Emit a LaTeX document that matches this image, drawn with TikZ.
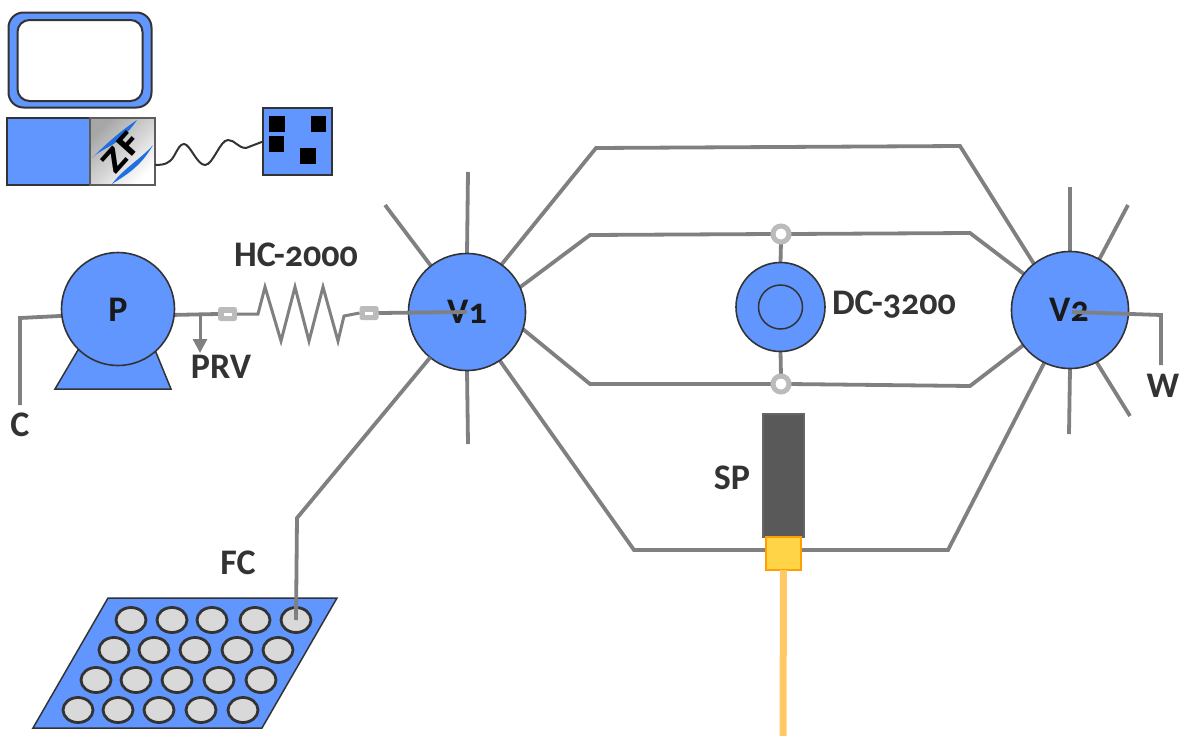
\documentclass[tikz,border=0pt]{standalone}
\usepackage{fontspec}
\setmainfont{Carlito}[Numbers=OldStyle]
\newfontfamily\zffont{DejaVu Sans}
\usetikzlibrary{backgrounds,arrows.meta,shapes.geometric,calc}
\definecolor{bluef}{HTML}{6196FF}
\definecolor{edgec}{HTML}{333333}
\definecolor{tube}{HTML}{808080}
\definecolor{fit}{HTML}{BBBBBB}
\definecolor{wave}{HTML}{1F6FE0}
\definecolor{tipf}{HTML}{FFD447}
\definecolor{tipd}{HTML}{FFA000}
\definecolor{fibc}{HTML}{FFC966}
\tikzset{
 every node/.style={inner sep=0pt,outer sep=0pt},
 lbl/.style={font=\fontsize{36}{36}\bfseries\selectfont,text=edgec},
 disclbl/.style={font=\fontsize{36}{36}\bfseries\selectfont,text=black!90},
 disc/.style={circle,draw=edgec,fill=bluef,line width=1.6pt},
 tubeline/.style={draw=tube,line width=3.8pt,line join=miter},
 fitting/.style={rectangle,rounded corners=2.5pt,fill=fit,minimum width=19pt,minimum height=14pt},
 ring/.style={circle,draw=fit,fill=white,line width=5pt,minimum size=16pt},
 well/.style={ellipse,draw=edgec,fill=black!15,line width=2.8pt,minimum width=30pt,minimum height=25pt},
 blk/.style={rectangle,fill=black},
}
\begin{document}
\begin{tikzpicture}[x=1pt,y=-1pt]
\useasboundingbox (0,0) rectangle (1181,736);
% computer
\node[rectangle,draw=edgec,fill=bluef,line width=2pt,rounded corners=15pt,minimum width=143pt,minimum height=95pt] (mon) at (80,60) {};
\node[rectangle,draw=edgec,fill=white,line width=2pt,rounded corners=12pt,minimum width=125pt,minimum height=81pt] (scr) at (80,60.5) {};
\node[rectangle,draw=edgec,fill=bluef,line width=2pt,minimum width=84pt,minimum height=67pt] (pc) at (48.5,151.5) {};
\node[rectangle,draw=edgec!80,line width=1.5pt,top color=black!35,bottom color=white,shading angle=45,minimum width=65pt,minimum height=67pt] (zf) at (122.5,151.5) {};
\fill[wave] (92,158) .. controls (104,146) and (118,148) .. (137,120) .. controls (122,130) and (108,142) .. cycle;
\fill[wave] (112,184) .. controls (124,176) and (140,168) .. (153,145) .. controls (142,158) and (124,168) .. cycle;
\node[rotate=48,text=black,font=\fontsize{30}{30}\bfseries\zffont] (zft) at (122,152) {ZF};
% device
\node[rectangle,draw=edgec,fill=bluef,line width=2pt,minimum width=69pt,minimum height=67pt] (dev) at (297.5,141.5) {};
\node[blk,minimum width=16pt,minimum height=16pt] (b1) at (277,124) {};
\node[blk,minimum width=15pt,minimum height=16pt] (b2) at (318.5,124) {};
\node[blk,minimum width=15pt,minimum height=16pt] (b3) at (276.5,144) {};
\node[blk,minimum width=16pt,minimum height=16pt] (b4) at (308,156) {};
\coordinate (za) at (155,165);
\coordinate (db) at (dev.west);
\draw[draw=edgec,line width=2pt] (za) .. controls (165,165) and (170,163) .. (174,156) .. controls (178,149) and (180,144) .. (184,144) .. controls (190,144) and (197,165) .. (205,165) .. controls (213,165) and (220,140) .. (228,140) .. controls (235,140) and (238,148) .. (246,148) -- (db);
% pump
\node[disc,minimum size=113pt] (p) at (118,309) {};
\begin{scope}[on background layer]
\filldraw[draw=edgec,fill=bluef,line width=1.5pt,line join=miter] (78,350) -- (55,389) -- (171,389) -- (155,350) -- cycle;
\end{scope}
\node[disclbl] (pl) at (118,310) {P};
% valves
\node[disc,minimum size=117pt] (v1) at (467,312) {};
\node[disc,minimum size=117pt] (v2) at (1070,310) {};
\node[disclbl] (v1l) at (467,312) {V1};
\node[disclbl] (v2l) at (1069,310) {V2};
% detector
\node[disc,minimum size=89pt] (dc) at (780.5,307) {};
\node[circle,draw=edgec,line width=1.5pt,minimum size=44pt] (dci) at (780.5,307) {};
\node[ring] (rt) at (781,234) {};
\node[ring] (rb) at (781,384) {};
% fittings
\node[fitting] (f1) at (227.5,314) {};
\node[fitting] (f2) at (369,313) {};
\fill[white] (223.5,313) rectangle (231.5,315.5);
\fill[white] (365,312) rectangle (373,314.5);
% sensor
\node[rectangle,draw=black!60,fill=black!65,line width=1.3pt,minimum width=41pt,minimum height=123pt] (sp) at (783.5,475.5) {};
\node[rectangle,draw=tipd,fill=tipf,line width=1.8pt,minimum width=35pt,minimum height=33pt] (tip) at (783.5,553.5) {};
\coordinate (fib) at (783,736);
\draw[draw=fibc,line width=7pt] (tip.south) -- (fib);
% tray
\filldraw[draw=edgec,fill=bluef,line width=1.5pt] (108,598) -- (337,598) -- (262,728) -- (33,728) -- cycle;
\foreach \n/\x/\y in {a1/131/620,a2/172/620,a3/212/620,a4/255/620,a5/296/620,
 b1/114/650,b2/154/650,b3/195/650,b4/237/650,b5/278/650,
 c1/96/680,c2/136/680,c3/177/680,c4/219/680,c5/261/680,
 d1/78/710,d2/118/710,d3/159/710,d4/201/710,d5/243/710}{
 \node[well] (w\n) at (\x,\y) {};
}
% labels
\node[lbl] (hc) at (296,255) {HC-2000};
\node[lbl] (prv) at (221,367) {PRV};
\node[lbl] (cl) at (20,425) {C};
\node[lbl] (fc) at (238,563) {FC};
\node[lbl] (spl) at (732,478) {SP};
\node[lbl,anchor=west] (dcl) at (832,305) {DC-3200};
\node[lbl] (wl) at (1163,386) {W};
% tubes behind the discs
\begin{scope}[on background layer]
\coordinate (s1) at (385,205); \coordinate (s2) at (468,172); \coordinate (s3) at (468,444);
\draw[tubeline] (v1.128) -- (s1);
\draw[tubeline] (v1.90) -- (s2);
\draw[tubeline] (v1.270) -- (s3);
\coordinate (s4) at (1070,187); \coordinate (s5) at (1128,205); \coordinate (s6) at (1130,416); \coordinate (s7) at (1069,434);
\draw[tubeline] (v2.90) -- (s4);
\draw[tubeline] (v2.60) -- (s5);
\draw[tubeline] (v2.-63) -- (s6);
\draw[tubeline] (v2.270) -- (s7);
\draw[tubeline] (v1.54) -- (596,148) -- (960,146) -- (v2.128);
\draw[tubeline] (v1.25) -- (590,235) -- (rt.west);
\draw[tubeline] (rt.east) -- (970,233) -- (v2.142);
\draw[tubeline] (v1.-17) -- (590,384) -- (rb.west);
\draw[tubeline] (rb.east) -- (970,386) -- (v2.217);
\draw[tubeline] (v1.-56) -- (634,550) -- (948,550) -- (v2.244);
\draw[tubeline] (rt.south) -- (dc.north);
\draw[tubeline] (rb.north) -- (dc.south);
\draw[tubeline] (p.-6) -- (f1.west);
\draw[tubeline] (p.187) -- (20,318) -- (20,405);
\end{scope}
\draw[draw=tube,line width=3pt,line join=miter] (f1.east) -- (258,314) -- (265,287) -- (281,341) -- (295,287) -- (309,341) -- (323,287) -- (338,341) -- (344,316) -- (f2.west);
\draw[tubeline] (f2.east) -- (v1.center);
\draw[tubeline] (v2.center) ++(2,2) -- (1161,315) -- (1161,365);
\draw[tubeline] (v1.231) -- (297,518) -- (wa5.center);
\draw[draw=tube,line width=3pt,-{Triangle[width=14pt,length=14pt]}] (200,315) -- (200,353);
\end{tikzpicture}
\end{document}
